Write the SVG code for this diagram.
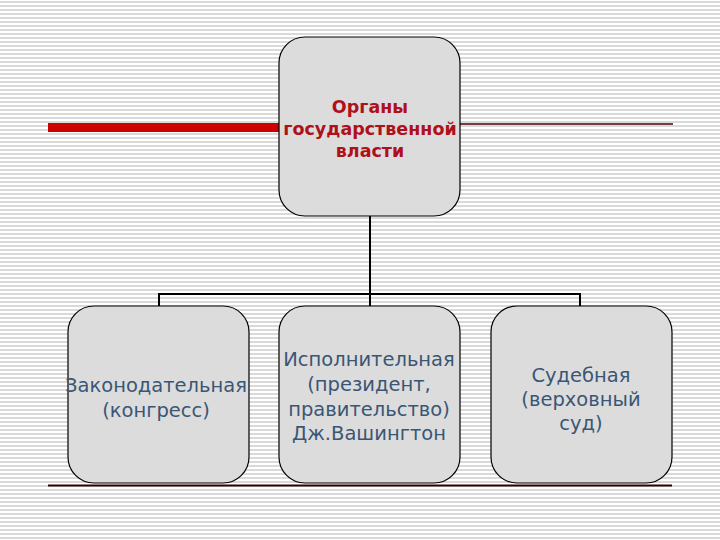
<svg xmlns="http://www.w3.org/2000/svg" width="720" height="540" viewBox="0 0 720 540">
  <defs>
    <pattern id="stripes" x="0" y="0" width="8" height="4" patternUnits="userSpaceOnUse">
      <rect x="0" y="0" width="8" height="4" fill="#ffffff"/>
      <rect x="0" y="1" width="8" height="2" fill="#d9d9d9"/>
    </pattern>
  </defs>
  <style>
    .box { fill: #dcdcdc; stroke: #000000; stroke-width: 1.2; }
    .title { font-family: "DejaVu Sans", Verdana, sans-serif; font-weight: bold; font-size: 17.5px; fill: #b0101a; text-anchor: middle; }
    .lbl { font-family: "DejaVu Sans", Verdana, sans-serif; font-size: 19.5px; fill: #3a5675; text-anchor: middle; }
    .conn { fill: none; stroke: #000000; stroke-width: 2; }
  </style>
  <rect x="0" y="0" width="720" height="540" fill="url(#stripes)"/>

  <g id="decor">
    <rect x="48" y="123" width="231" height="9" fill="#cc0000"/>
    <line x1="460" y1="124" x2="673" y2="124" stroke="#400000" stroke-width="1.5"/>
    <line x1="48" y1="485.5" x2="672" y2="485.5" stroke="#300000" stroke-width="1.8"/>
  </g>

  <g id="connectors">
    <path class="conn" d="M370 216 V294"/>
    <path class="conn" d="M159 306 V294 H580 V306"/>
    <path class="conn" d="M370 294 V306"/>
  </g>

  <g id="node-top">
    <rect class="box" x="279" y="37" width="181" height="179" rx="26" ry="26"/>
    <text class="title" x="370" y="113">Органы</text>
    <text class="title" x="370" y="135">государственной</text>
    <text class="title" x="370" y="157">власти</text>
  </g>

  <g id="node-legislative">
    <rect class="box" x="68" y="306" width="181" height="177" rx="26" ry="26"/>
    <text class="lbl" x="156" y="392">Законодательная</text>
    <text class="lbl" x="156" y="417">(конгресс)</text>
  </g>

  <g id="node-executive">
    <rect class="box" x="279" y="306" width="181" height="177" rx="26" ry="26"/>
    <text class="lbl" x="369" y="366">Исполнительная</text>
    <text class="lbl" x="369" y="391">(президент,</text>
    <text class="lbl" x="369" y="416">правительство)</text>
    <text class="lbl" x="369" y="440">Дж.Вашингтон</text>
  </g>

  <g id="node-judicial">
    <rect class="box" x="491" y="306" width="181" height="177" rx="26" ry="26"/>
    <text class="lbl" x="581" y="382">Судебная</text>
    <text class="lbl" x="581" y="406">(верховный</text>
    <text class="lbl" x="581" y="430">суд)</text>
  </g>
</svg>
